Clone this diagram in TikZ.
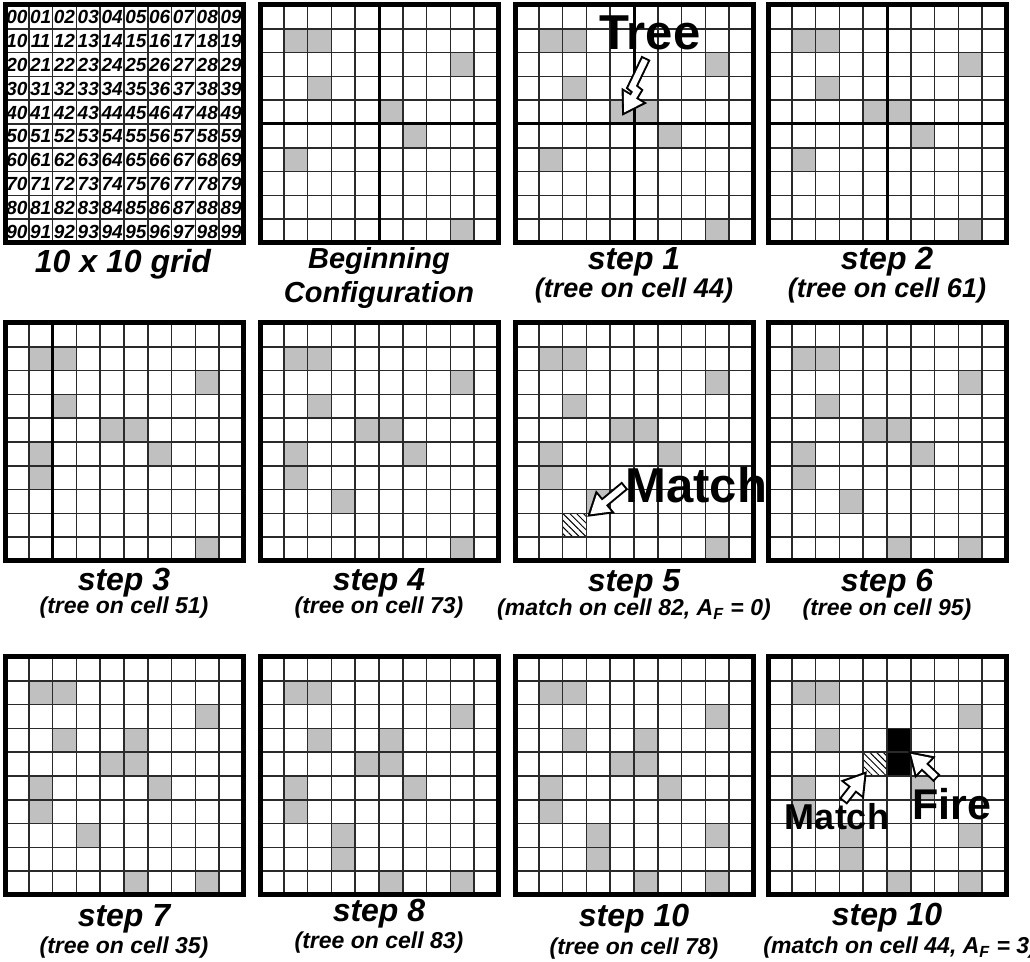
\documentclass[tikz,border=0pt]{standalone}
\usepackage{fontspec}
\setmainfont{Liberation Sans}
\usetikzlibrary{arrows.meta, calc, patterns.meta}
\definecolor{TreeGray}{HTML}{C0C0C0}
\definecolor{CellLine}{HTML}{2A2A2A}

% trees of one board: #1 fill style, #2 x, #3 y, #4 cells
\newcommand\trees[4][TreeGray]{%
  \foreach \c in {#4} {
    \pgfmathtruncatemacro\crow{\c/10}
    \pgfmathtruncatemacro\ccol{\c-10*\crow}
    \fill[#1] (#2+\ccol*23.8, #3+\crow*23.8) rectangle ++(23.8,23.8);
  }}
% lines and frame of one 10x10 board at #1,#2
\newcommand\board[2]{%
  \foreach \k in {1,...,9} {
    \draw[cellline] (#1+\k*23.8, #2) -- ++(0,238);
    \draw[cellline] (#1, #2+\k*23.8) -- ++(238,0);
  }
  \draw[frame] (#1,#2) rectangle ++(238,238);}

\begin{document}
\begin{tikzpicture}[x=0.5pt, y=-0.5pt,
  cellline/.style={CellLine, line width=0.8pt},
  frame/.style={black, line width=2.5pt},
  divider/.style={black, line width=1.5pt},
  num/.style={font=\fontsize{9.5}{10}\selectfont\bfseries\itshape, inner sep=0pt},
  title/.style={font=\fontsize{16}{18}\selectfont\bfseries\itshape, anchor=base, inner sep=0pt},
  sub/.style={font=\fontsize{13.5}{15}\selectfont\bfseries\itshape, anchor=base, inner sep=0pt},
  subs/.style={sub, font=\fontsize{11.5}{14}\selectfont\bfseries\itshape},
  callout/.style={font=\fontsize{24.5}{28}\selectfont\bfseries, anchor=base, inner sep=0pt},
  arrout/.style={black, line width=5pt, line join=miter, -{Triangle[length=12pt, width=14pt]}},
  arrin/.style={white, line width=3pt, line join=miter, shorten <=1pt, shorten >=2pt,
                -{Triangle[length=9pt, width=10.5pt]}},
  hatch/.style={pattern={Lines[angle=-45, distance=2.4pt, line width=0.5pt]}},
]
\useasboundingbox (0,0) rectangle (1030,962);

% row 1
\foreach \r in {0,...,9}
  \foreach \q in {0,...,9}
    \node[num] at (5+\q*23.8+11.9, 5+\r*23.8+12.4) {\r\q};
\board{5}{5}
\node[title] (lgrid) at (123,273) {10 x 10 grid};

\trees{260}{5}{11,12,28,32,45,56,61,98}
\board{260}{5}
\draw[divider] (379,5) -- ++(0,238) (260,124) -- ++(238,0);
\node[title, font=\fontsize{14.5}{17}\selectfont\bfseries\itshape] (lbeg) at (379,269) {Beginning};
\node[title, font=\fontsize{14.5}{17}\selectfont\bfseries\itshape] (lconf) at (379,303) {Configuration};

\trees{515}{5}{11,12,28,32,44,45,56,61,98}
\board{515}{5}
\draw[divider] (634,5) -- ++(0,238) (515,124) -- ++(238,0);
\node[title] (lstep1) at (634,270) {step 1};
\node[sub] (sstep1) at (634,298) {(tree on cell 44)};

\trees{768}{5}{11,12,28,32,44,45,56,61,98}
\board{768}{5}
\draw[divider] (887,5) -- ++(0,238) (768,124) -- ++(238,0);
\node[title] (lstep2) at (887,270) {step 2};
\node[sub] (sstep2) at (887,298) {(tree on cell 61)};

% row 2
\trees{5}{323}{11,12,28,32,44,45,51,56,61,98}
\board{5}{323}
\draw[divider] (52.6,323) -- ++(0,238);
\node[title] (lstep3) at (124,591) {step 3};
\node[subs] (sstep3) at (124,614) {(tree on cell 51)};

\trees{260}{323}{11,12,28,32,44,45,51,56,61,73,98}
\board{260}{323}
\node[title] (lstep4) at (379,591) {step 4};
\node[subs] (sstep4) at (379,614) {(tree on cell 73)};

\trees{515}{323}{11,12,28,32,44,45,51,56,61,73,98}
\trees[hatch]{515}{323}{82}
\board{515}{323}
\node[title] (lstep5) at (634,592) {step 5};
\node[subs] (sstep5) at (634,616) {(match on cell 82, A\textsubscript{F} = 0)};

\trees{768}{323}{11,12,28,32,44,45,51,56,61,73,95,98}
\board{768}{323}
\node[title] (lstep6) at (887,592) {step 6};
\node[subs] (sstep6) at (887,616) {(tree on cell 95)};

% row 3
\trees{5}{657}{11,12,28,32,35,44,45,51,56,61,73,95,98}
\board{5}{657}
\node[title] (lstep7) at (124,927) {step 7};
\node[subs] (sstep7) at (124,954) {(tree on cell 35)};

\trees{260}{657}{11,12,28,32,35,44,45,51,56,61,73,83,95,98}
\board{260}{657}
\node[title] (lstep8) at (379,922) {step 8};
\node[subs] (sstep8) at (379,949) {(tree on cell 83)};

\trees{515}{657}{11,12,28,32,35,44,45,51,56,61,73,78,83,95,98}
\board{515}{657}
\node[title] (lstep9) at (634,927) {step 10};
\node[subs] (sstep9) at (634,955) {(tree on cell 78)};

\trees{768}{657}{11,12,28,32,51,56,61,73,78,83,95,98}
\trees[black]{768}{657}{35,45}
\trees[hatch]{768}{657}{44}
\board{768}{657}
\node[title] (lstep10) at (887,926) {step 10};
\node[subs, anchor=base west] (sstep10) at (763,954) {(match on cell 44, A\textsubscript{F} = 3)};

% call-outs
\coordinate (c44) at (622,116);
\coordinate (c82) at (587,517);
\coordinate (m44) at (867,771);
\coordinate (f45) at (908,751);
\node[callout] (tree) at (650,50) {Tree};
\node[callout, anchor=base west] (match) at (625,503) {Match};
\node[callout, font=\fontsize{18}{20}\selectfont\bfseries] (matchb) at (837,830) {Match};
\node[callout, font=\fontsize{21.5}{24}\selectfont\bfseries] (fire) at (952,820) {Fire};

\draw[arrout] ($(tree.south)+(-4,7)$) -- (632,87) -- (637,91) -- (c44);
\draw[arrin] ($(tree.south)+(-4,7)$) -- (632,87) -- (637,91) -- (c44);
\draw[arrout] (match.west) -- (c82);
\draw[arrin] (match.west) -- (c82);
\draw[arrout] ($(matchb.north)+(6,-2)$) -- (m44);
\draw[arrin] ($(matchb.north)+(6,-2)$) -- (m44);
\draw[arrout] ($(fire.north)+(-15,-10)$) -- (f45);
\draw[arrin] ($(fire.north)+(-15,-10)$) -- (f45);
\end{tikzpicture}
\end{document}
